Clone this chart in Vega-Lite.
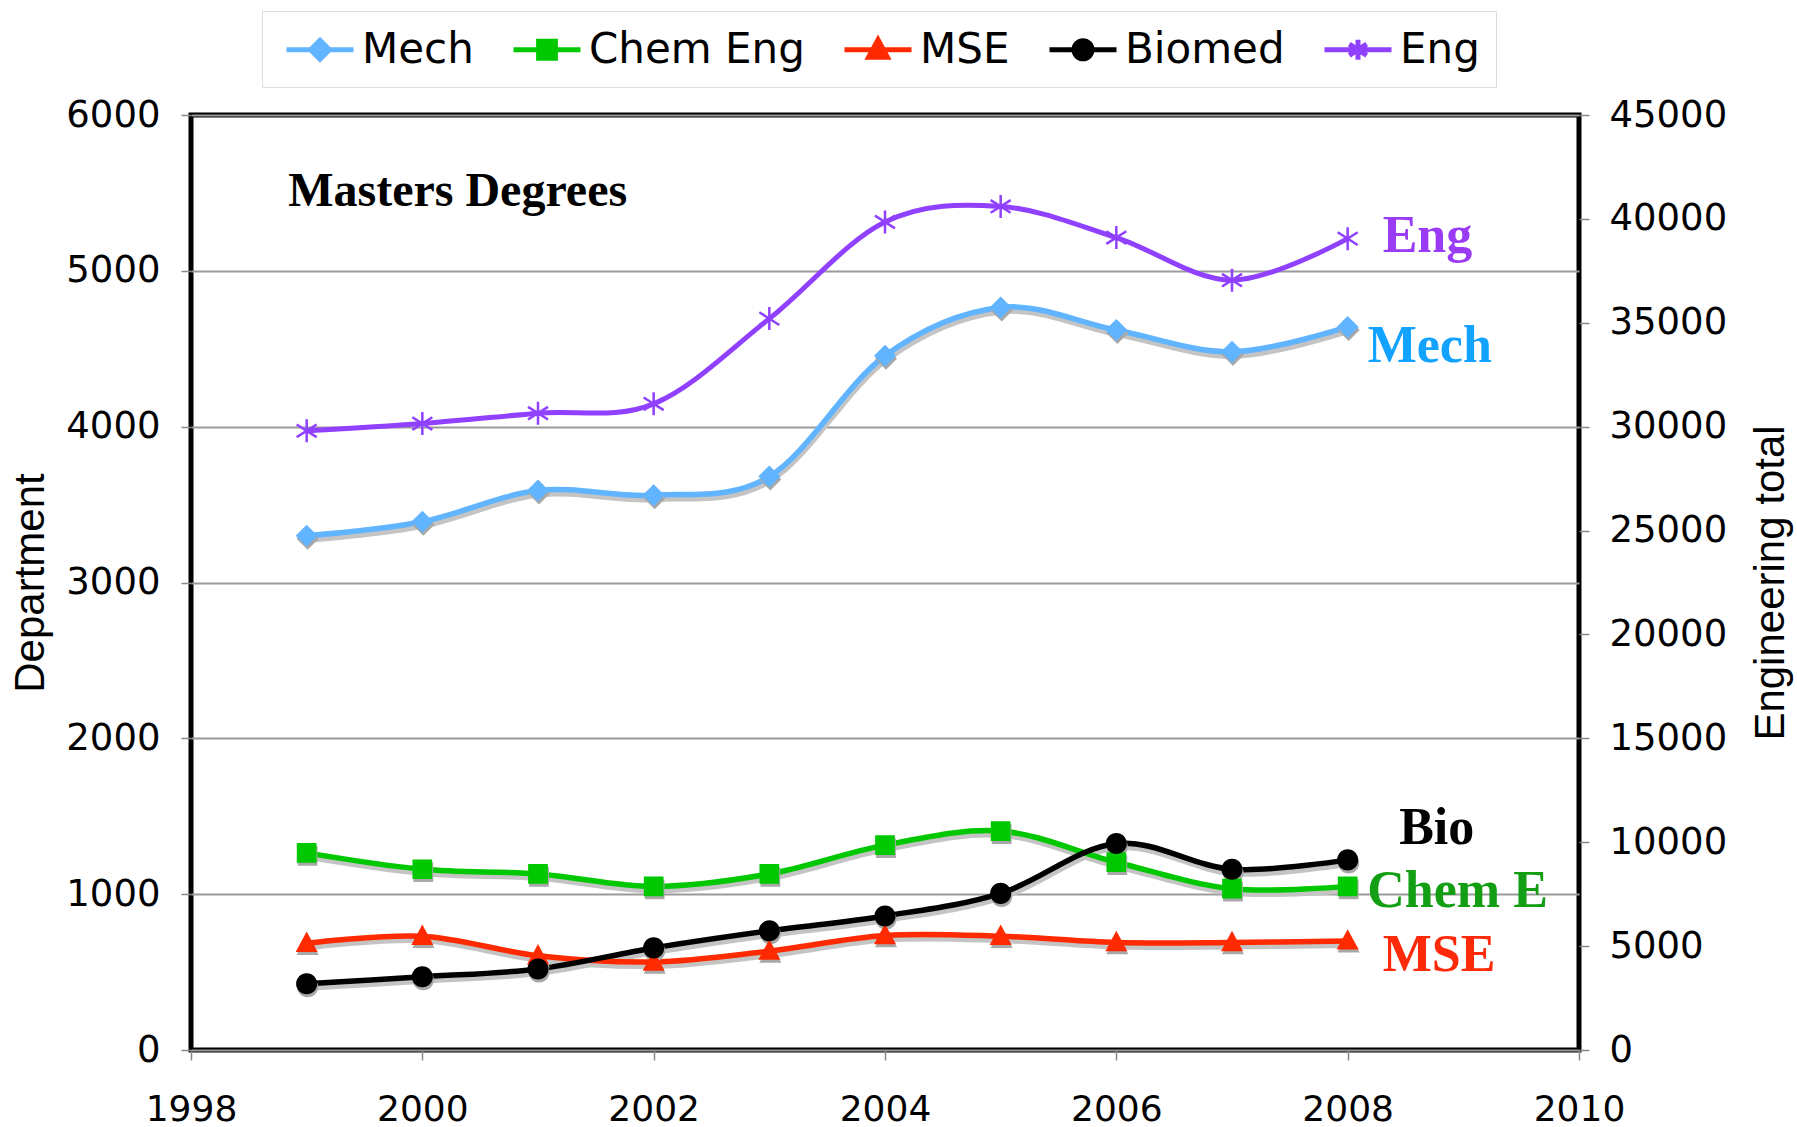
{
  "$schema": "https://vega.github.io/schema/vega-lite/v6.json",
  "width": 1388,
  "height": 935,
  "autosize": {"type": "none"},
  "padding": {"left": 191, "top": 115, "right": 218, "bottom": 77},
  "background": "white",
  "config": {
    "view": {"stroke": "black", "strokeWidth": 5},
    "axis": {"labelFont": "DejaVu Sans", "labelFontSize": 37, "labelColor": "black", "tickColor": "#888888", "tickSize": 10, "tickWidth": 1.5, "domain": false, "titleFont": "Liberation Sans", "titleFontSize": 42, "titleFontWeight": "normal", "titleColor": "black"}
  },
  "datasets": {
    "degrees": [
      {"year": 1999, "series": "Mech", "value": 3300},
      {"year": 2000, "series": "Mech", "value": 3390},
      {"year": 2001, "series": "Mech", "value": 3590},
      {"year": 2002, "series": "Mech", "value": 3560},
      {"year": 2003, "series": "Mech", "value": 3680},
      {"year": 2004, "series": "Mech", "value": 4455},
      {"year": 2005, "series": "Mech", "value": 4765},
      {"year": 2006, "series": "Mech", "value": 4620},
      {"year": 2007, "series": "Mech", "value": 4480},
      {"year": 2008, "series": "Mech", "value": 4640},
      {"year": 1999, "series": "Chem Eng", "value": 1265},
      {"year": 2000, "series": "Chem Eng", "value": 1160},
      {"year": 2001, "series": "Chem Eng", "value": 1130},
      {"year": 2002, "series": "Chem Eng", "value": 1050},
      {"year": 2003, "series": "Chem Eng", "value": 1130},
      {"year": 2004, "series": "Chem Eng", "value": 1315},
      {"year": 2005, "series": "Chem Eng", "value": 1405},
      {"year": 2006, "series": "Chem Eng", "value": 1205},
      {"year": 2007, "series": "Chem Eng", "value": 1035},
      {"year": 2008, "series": "Chem Eng", "value": 1050},
      {"year": 1999, "series": "MSE", "value": 685},
      {"year": 2000, "series": "MSE", "value": 730},
      {"year": 2001, "series": "MSE", "value": 605},
      {"year": 2002, "series": "MSE", "value": 565},
      {"year": 2003, "series": "MSE", "value": 635},
      {"year": 2004, "series": "MSE", "value": 735},
      {"year": 2005, "series": "MSE", "value": 730},
      {"year": 2006, "series": "MSE", "value": 690},
      {"year": 2007, "series": "MSE", "value": 690},
      {"year": 2008, "series": "MSE", "value": 700},
      {"year": 1999, "series": "Biomed", "value": 425},
      {"year": 2000, "series": "Biomed", "value": 470},
      {"year": 2001, "series": "Biomed", "value": 520},
      {"year": 2002, "series": "Biomed", "value": 655},
      {"year": 2003, "series": "Biomed", "value": 765},
      {"year": 2004, "series": "Biomed", "value": 860},
      {"year": 2005, "series": "Biomed", "value": 1005},
      {"year": 2006, "series": "Biomed", "value": 1325},
      {"year": 2007, "series": "Biomed", "value": 1160},
      {"year": 2008, "series": "Biomed", "value": 1220},
      {"year": 1999, "series": "Eng", "value": 29800},
      {"year": 2000, "series": "Eng", "value": 30150},
      {"year": 2001, "series": "Eng", "value": 30650},
      {"year": 2002, "series": "Eng", "value": 31100},
      {"year": 2003, "series": "Eng", "value": 35200},
      {"year": 2004, "series": "Eng", "value": 39850},
      {"year": 2005, "series": "Eng", "value": 40600},
      {"year": 2006, "series": "Eng", "value": 39100},
      {"year": 2007, "series": "Eng", "value": 37050},
      {"year": 2008, "series": "Eng", "value": 39050}
    ],
    "labels": [
      {"label": "Eng", "year": 2008.69, "value": 5221},
      {"label": "Mech", "year": 2008.71, "value": 4515},
      {"label": "Bio", "year": 2008.77, "value": 1426},
      {"label": "Chem E", "year": 2008.95, "value": 1022},
      {"label": "MSE", "year": 2008.79, "value": 610}
    ],
    "title": [
      {"label": "Masters Degrees", "year": 1998.84, "value": 5504}
    ]
  },
  "encoding": {
    "x": {
      "field": "year", "type": "quantitative",
      "scale": {"domain": [1998, 2010], "nice": false, "zero": false},
      "axis": {"values": [1998, 2000, 2002, 2004, 2006, 2008, 2010], "format": "d", "grid": false, "title": null, "labelPadding": 32, "labelFlush": false, "labelFontSize": 36}
    }
  },
  "layer": [
    {
      "data": {"name": "degrees"},
      "transform": [{"filter": "datum.series !== 'Eng'"}],
      "encoding": {
        "y": {
          "field": "value", "type": "quantitative",
          "scale": {"domain": [0, 6000], "nice": false},
          "axis": {"orient": "left", "values": [0, 1000, 2000, 3000, 4000, 5000, 6000], "format": "d", "grid": true, "gridColor": "#9a9a9a", "gridWidth": 2, "title": "Department", "labelPadding": 21, "titlePadding": 13}
        }
      },
      "layer": [
        {
          "mark": {"type": "line", "interpolate": "cardinal", "color": "#c4c4c4", "strokeWidth": 6, "yOffset": 4, "xOffset": 1},
          "encoding": {"detail": {"field": "series"}}
        },
        {
          "mark": {"type": "line", "interpolate": "cardinal", "strokeWidth": 5.5},
          "encoding": {
            "color": {
              "field": "series", "type": "nominal",
              "scale": {"domain": ["Mech", "Chem Eng", "MSE", "Biomed", "Eng"], "range": ["#61b4ff", "#00c800", "#ff2a00", "#000000", "#9040ff"]},
              "legend": {
                "orient": "none", "legendX": 71, "legendY": -104, "direction": "horizontal", "columns": 5,
                "title": null, "labelFont": "DejaVu Sans", "labelFontSize": 42, "labelColor": "black", "labelLimit": 500,
                "symbolSize": 1600, "symbolOffset": 19.5, "labelOffset": 19.5, "columnPadding": 29, "padding": 16,
                "strokeColor": "#dddddd", "fillColor": "white",
                "encode": {"symbols": {"update": {
                  "shape": {"scale": "shape", "field": "value"},
                  "fill": {"scale": "color", "field": "value"},
                  "stroke": {"scale": "color", "field": "value"},
                  "strokeWidth": {"value": 5},
                  "opacity": {"value": 1}
                }}}
              }
            }
          }
        },
        {
          "mark": {"type": "point", "filled": true, "size": 2201, "color": "#a8a8a8", "opacity": 1, "yOffset": 3, "xOffset": 1},
          "encoding": {
            "shape": {"field": "series", "type": "nominal", "legend": null,
              "scale": {"domain": ["Mech", "Chem Eng", "MSE", "Biomed", "Eng"],
                "range": [
                  "M-1.675,0L1.675,0M0,-0.47L0.47,0L0,0.47L-0.47,0Z",
                  "M-1.675,0L1.675,0M-0.42,-0.42L0.42,-0.42L0.42,0.42L-0.42,0.42Z",
                  "M-1.675,0L1.675,0M0,-0.5L0.47,0.37L-0.47,0.37Z",
                  "M-1.675,0L1.675,0M-0.45,0A0.45,0.45 0 1,0 0.45,0A0.45,0.45 0 1,0 -0.45,0Z",
                  "M-1.675,0L1.675,0M0,-0.5L0,0.5M-0.435,-0.285L0.435,0.285M-0.435,0.285L0.435,-0.285"
                ]}}
          }
        },
        {
          "mark": {"type": "point", "filled": true, "size": 2201, "opacity": 1, "strokeWidth": 0},
          "encoding": {
            "color": {"field": "series", "type": "nominal"},
            "shape": {"field": "series", "type": "nominal"}
          }
        }
      ]
    },
    {
      "data": {"name": "degrees"},
      "transform": [{"filter": "datum.series === 'Eng'"}],
      "encoding": {
        "y": {
          "field": "value", "type": "quantitative",
          "scale": {"domain": [0, 45000], "nice": false},
          "axis": {"orient": "right", "values": [0, 5000, 10000, 15000, 20000, 25000, 30000, 35000, 40000, 45000], "format": "d", "grid": false, "title": "Engineering total", "titleAngle": 270, "labelPadding": 20, "titlePadding": 66}
        }
      },
      "layer": [
        {
          "mark": {"type": "line", "interpolate": "cardinal", "strokeWidth": 5},
          "encoding": {"color": {"field": "series", "type": "nominal"}}
        },
        {
          "mark": {"type": "point", "filled": false, "size": 529, "strokeWidth": 2.5, "opacity": 1, "shape": "M0,-1L0,1M-0.87,-0.55L0.87,0.55M-0.87,0.55L0.87,-0.55"},
          "encoding": {"color": {"field": "series", "type": "nominal"}}
        }
      ]
    },
    {
      "data": {"name": "labels"},
      "mark": {"type": "text", "font": "Liberation Serif", "fontWeight": "bold", "fontSize": 52, "align": "center", "baseline": "middle"},
      "encoding": {
        "y": {"field": "value", "type": "quantitative", "scale": {"domain": [0, 6000], "nice": false}, "axis": null},
        "text": {"field": "label"},
        "color": {
          "condition": [
            {"test": "datum.label === 'Eng'", "value": "#9a3cf5"},
            {"test": "datum.label === 'Mech'", "value": "#12a2ff"},
            {"test": "datum.label === 'Chem E'", "value": "#149e14"},
            {"test": "datum.label === 'MSE'", "value": "#ff2a0a"}
          ],
          "value": "black"
        }
      }
    },
    {
      "data": {"name": "title"},
      "mark": {"type": "text", "font": "Liberation Serif", "fontWeight": "bold", "fontSize": 48, "align": "left", "baseline": "middle", "color": "black"},
      "encoding": {
        "y": {"field": "value", "type": "quantitative", "scale": {"domain": [0, 6000], "nice": false}, "axis": null},
        "text": {"field": "label"}
      }
    }
  ],
  "resolve": {"scale": {"y": "independent"}}
}
